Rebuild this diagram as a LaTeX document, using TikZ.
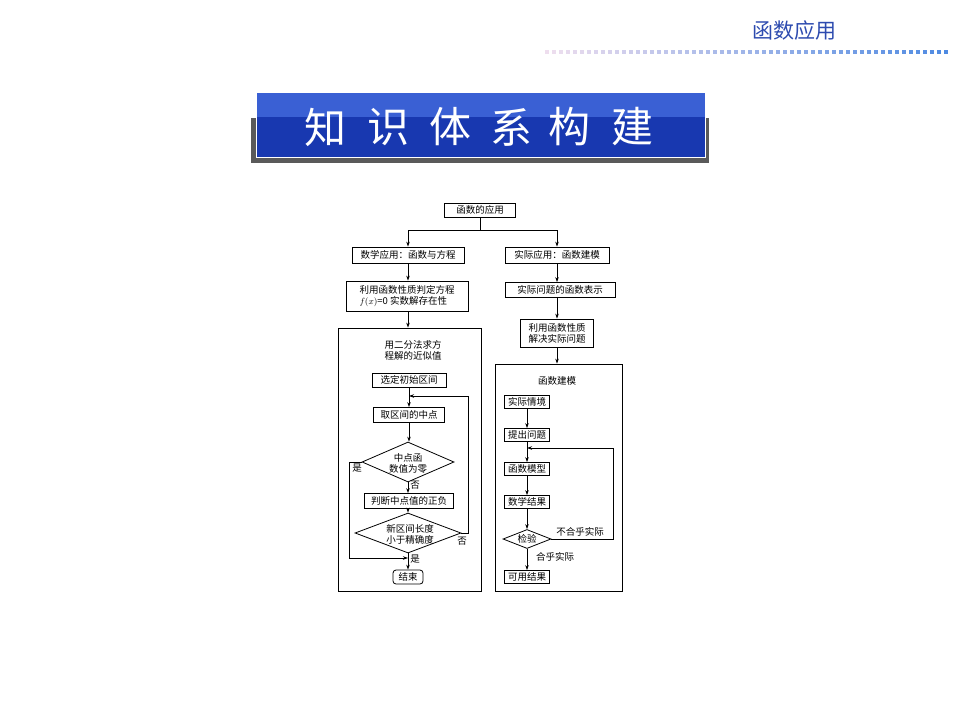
\documentclass[tikz,border=0pt]{standalone}
\usepackage{fontspec}
\setmainfont{Noto Sans CJK SC}
\usetikzlibrary{shapes.geometric,arrows.meta,calc}
\definecolor{dotA}{RGB}{238,222,238}
\definecolor{dotB}{RGB}{78,138,226}
\definecolor{headblue}{RGB}{45,75,175}
\definecolor{banlight}{RGB}{58,96,212}
\definecolor{bandark}{RGB}{24,56,176}
\definecolor{shadowgray}{RGB}{90,90,90}
\begin{document}
\begin{tikzpicture}[x=1pt,y=-1pt,
  fbox/.style={draw,line width=0.8pt,inner sep=1pt,font=\fontsize{9.5}{11}\selectfont},
  fbig/.style={draw,line width=0.8pt,inner sep=0pt},
  fdia/.style={draw,line width=0.8pt,shape=diamond,inner sep=0pt},
  ftxt/.style={inner sep=0pt,align=center,font=\fontsize{9.5}{11}\selectfont},
  arr/.style={line width=0.7pt,-{Stealth[length=5pt,width=3.5pt]}},
  conn/.style={line width=0.7pt},
  titlech/.style={text=white,inner sep=0pt,font=\fontsize{42}{42}\selectfont}]
\useasboundingbox (0,0) rectangle (960,720);

% header
\node[text=headblue,font=\fontsize{21}{21}\selectfont,inner sep=0pt] (hdr) at (794,31) {函数应用};
\foreach \i in {0,...,57}{
  \pgfmathtruncatemacro{\p}{100*\i/57}
  \colorlet{sq}{dotB!\p!dotA}
  \fill[sq] (545+7*\i,49.5) rectangle ++(4.2,4);
}

% banner
\fill[shadowgray] (251,118) rectangle (709,163);
\fill[bandark] (256,93) rectangle (705,157);
\fill[banlight] (256,93) rectangle (705,117);
\draw[white,line width=0.8pt] (256,93) -- (256,157) -- (705,157) -- (705,93);
\node[titlech] (t1) at (325,127) {知};
\node[titlech] (t2) at (388,127) {识};
\node[titlech] (t3) at (450,127) {体};
\node[titlech] (t4) at (511,127) {系};
\node[titlech] (t5) at (569,127) {构};
\node[titlech] (t6) at (632,127) {建};

% top level
\node[fbox,minimum width=71,minimum height=14] (top) at (480,210) {函数的应用};
\node[fbox,minimum width=112,minimum height=16] (L1) at (408,255) {数学应用：函数与方程};
\node[fbox,minimum width=104,minimum height=16] (R1) at (557,255) {实际应用：函数建模};
\node[fbox,minimum width=122,minimum height=30,align=left] (L2) at (407,296) {利用函数性质判定方程\\$f(x)$=0 实数解存在性};
\node[fbox,minimum width=110,minimum height=15] (R2) at (560,290) {实际问题的函数表示};
\node[fbox,minimum width=73,minimum height=28,align=center] (R3) at (557,333) {利用函数性质\\解决实际问题};
\node[fbig,minimum width=143,minimum height=263] (LB) at (409.5,459.5) {};
\node[fbig,minimum width=127,minimum height=227] (RB) at (558.5,477.5) {};

\coordinate (split) at (480,230);
\draw[conn] (top.south) -- (split);
\draw[arr] (split) -| (L1.north);
\draw[arr] (split) -| (R1.north);
\draw[arr] (L1.south) -- (L1.south |- L2.north);
\draw[arr] (L1.south |- L2.south) -- (L1.south |- LB.north);
\draw[arr] (R1.south) -- (R1.south |- R2.north);
\draw[arr] (R1.south |- R2.south) -- (R1.south |- R3.north);
\draw[arr] (R3.south) -- (R3.south |- RB.north);

% left inner chart
\node[ftxt] (LT) at (413,350) {用二分法求方\\程解的近似值};
\node[fbox,minimum width=74,minimum height=14] (S1) at (409,380) {选定初始区间};
\node[fbox,minimum width=71,minimum height=15] (S2) at (409,415) {取区间的中点};
\node[fdia,minimum width=92,minimum height=40] (D1) at (408,462) {};
\node[ftxt] (D1t) at (408,463) {中点函\\数值为零};
\node[fbox,minimum width=89,minimum height=15] (S3) at (409,501) {判断中点值的正负};
\node[fdia,minimum width=106,minimum height=40] (D2) at (408,533) {};
\node[ftxt] (D2t) at (410,534) {新区间长度\\小于精确度};
\node[fbox,rounded corners=3pt,minimum width=30,minimum height=14] (E) at (408,577) {结束};

\coordinate (J1) at (409,396);
\coordinate (J2) at (408,558);
\coordinate (LoopL) at (349,0);
\coordinate (LoopR) at (468,0);
\draw[arr] (S1.south) -- (S1.south |- S2.north);
\draw[arr] (S2.south) -- (S2.south |- D1.north);
\draw[arr] (D1.south) -- (D1.south |- S3.north);
\draw[arr] (D1.south |- S3.south) -- (D2.north);
\draw[arr] (D2.south) -- (E.north);
\draw[arr] (D2.east) -- (D2.east -| LoopR) |- (J1);
\draw[arr] (D1.west) -- (D1.west -| LoopL) |- (J2);
\node[ftxt] (yes1) at (357,468) {是};
\node[ftxt] (no1) at (415,485) {否};
\node[ftxt] (no2) at (462,541) {否};
\node[ftxt] (yes2) at (415,559) {是};

% right inner chart
\node[ftxt] (RT) at (557,381) {函数建模};
\node[fbox,minimum width=45,minimum height=13] (A1) at (527,402) {实际情境};
\node[fbox,minimum width=45,minimum height=13] (A2) at (527,435) {提出问题};
\node[fbox,minimum width=45,minimum height=13] (A3) at (527,469) {函数模型};
\node[fbox,minimum width=45,minimum height=13] (A4) at (527,502) {数学结果};
\node[fdia,minimum width=48,minimum height=19] (A5) at (527,539) {};
\node[ftxt] (A5t) at (527,539) {检验};
\node[fbox,minimum width=45,minimum height=13] (A6) at (527,577) {可用结果};
\coordinate (J3) at (527,448);
\coordinate (LoopR2) at (613,0);
\draw[arr] (A1.south) -- (A2.north);
\draw[arr] (A2.south) -- (A3.north);
\draw[arr] (A3.south) -- (A4.north);
\draw[arr] (A4.south) -- (A5.north);
\draw[arr] (A5.south) -- (A6.north);
\draw[arr] (A5.east) -- (A5.east -| LoopR2) |- (J3);
\node[ftxt] (nf) at (580,532) {不合乎实际};
\node[ftxt] (ok) at (555,557) {合乎实际};
\end{tikzpicture}
\end{document}
